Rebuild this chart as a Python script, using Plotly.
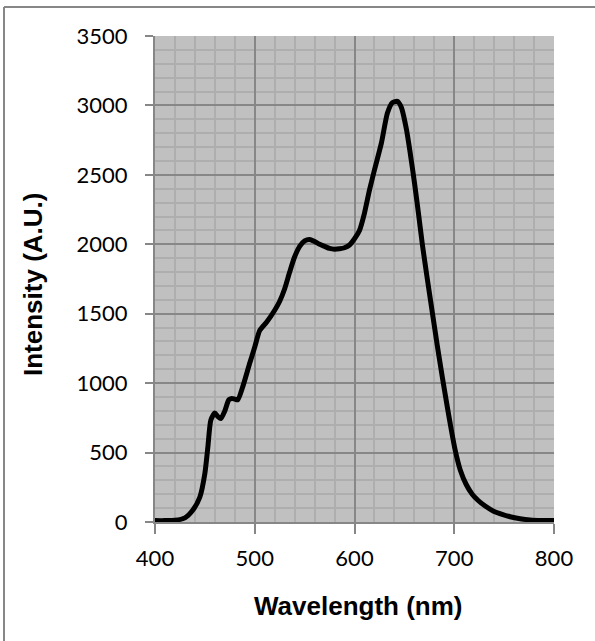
import plotly.graph_objects as go

wavelength_nm = [400, 410, 420, 430, 438, 445, 450, 453, 456, 460, 463, 466, 470, 474, 477,
                 480, 483, 488, 495, 500, 505, 512, 520, 525, 530, 535, 540, 545, 550, 555,
                 560, 565, 570, 575, 580, 585, 590, 595, 600, 605, 610, 615, 620, 627, 633,
                 638, 643, 647, 652, 656, 660, 664, 668, 673, 678, 683, 688, 693, 697, 701,
                 706, 712, 718, 724, 731, 739, 748, 756, 766, 776, 788, 800]
intensity = [10, 10, 12, 30, 86, 180, 350, 540, 735, 785, 760, 745, 800, 880, 890,
             885, 880, 975, 1145, 1260, 1380, 1440, 1525, 1590, 1680, 1800, 1910, 1985, 2025, 2035,
             2020, 2000, 1985, 1970, 1965, 1968, 1975, 1995, 2040, 2100, 2225, 2390, 2535, 2730, 2945,
             3020, 3030, 2985, 2830, 2650, 2450, 2230, 2000, 1750, 1510, 1270, 1045, 830, 665, 515,
             375, 270, 200, 155, 115, 80, 55, 38, 24, 15, 11, 10]

x_ticks = [400, 500, 600, 700, 800]
y_ticks = [0, 500, 1000, 1500, 2000, 2500, 3000, 3500]

W, H = 595, 641
L, R, T, B = 155, 41, 36, 119
pw, ph = W - L - R, H - T - B

fig = go.Figure()
fig.add_trace(go.Scatter(x=wavelength_nm, y=intensity, mode="lines",
                         line=dict(color="black", width=5, shape="spline", smoothing=0.6),
                         showlegend=False, hoverinfo="x+y"))

tickfont = dict(family="Lato, Open Sans, sans-serif", size=22, color="black")
major = "#878787"
minor = "#AEAEAE"

fig.update_layout(
    width=W, height=H,
    margin=dict(l=L, r=R, t=T, b=B),
    paper_bgcolor="white",
    plot_bgcolor="#C0C0C0",
    xaxis=dict(range=[400, 800], tickvals=x_ticks, ticktext=[str(v) for v in x_ticks],
               showgrid=True, gridcolor=major, gridwidth=2,
               minor=dict(dtick=20, tick0=400, showgrid=True, gridcolor=minor, gridwidth=2),
               showline=True, linecolor=major, linewidth=2,
               ticks="outside", ticklen=10, tickcolor=major, tickwidth=1.5,
               tickfont=tickfont, ticklabelstandoff=6, zeroline=False, fixedrange=True),
    yaxis=dict(range=[0, 3500], tickvals=y_ticks, ticktext=[str(v) for v in y_ticks],
               showgrid=True, gridcolor=major, gridwidth=2,
               minor=dict(dtick=100, tick0=0, showgrid=True, gridcolor=minor, gridwidth=2),
               showline=True, linecolor=major, linewidth=2,
               ticks="outside", ticklen=8, tickcolor=major, tickwidth=1.5,
               tickfont=tickfont, ticklabelstandoff=13, zeroline=False, fixedrange=True),
    annotations=[
        dict(text="<b>Wavelength (nm)</b>", xref="paper", yref="paper",
             x=(358 - L) / pw, y=(H - B - 606) / ph, xanchor="center", yanchor="middle",
             showarrow=False, font=dict(family="Liberation Sans, Arial, sans-serif", size=26, color="black")),
        dict(text="<b>Intensity (A.U.)</b>", xref="paper", yref="paper",
             x=(33 - L) / pw, y=(H - B - 285) / ph, xanchor="center", yanchor="middle",
             textangle=-90, showarrow=False,
             font=dict(family="Liberation Sans, Arial, sans-serif", size=26, color="black")),
    ],
    shapes=[
        dict(type="line", xref="paper", yref="paper", layer="above",
             x0=(4 - L) / pw, x1=(W + 10 - L) / pw, y0=(H - B - 7) / ph, y1=(H - B - 7) / ph,
             line=dict(color="#878787", width=2)),
        dict(type="line", xref="paper", yref="paper", layer="above",
             x0=(4 - L) / pw, x1=(4 - L) / pw, y0=-(B + 10) / ph, y1=(H - B - 7) / ph,
             line=dict(color="#878787", width=2)),
    ],
)

fig.write_html("out.html", config={"displayModeBar": False},
               post_script="document.body.style.margin='0';document.body.style.overflow='hidden';"
                           "document.documentElement.style.overflow='hidden';")
